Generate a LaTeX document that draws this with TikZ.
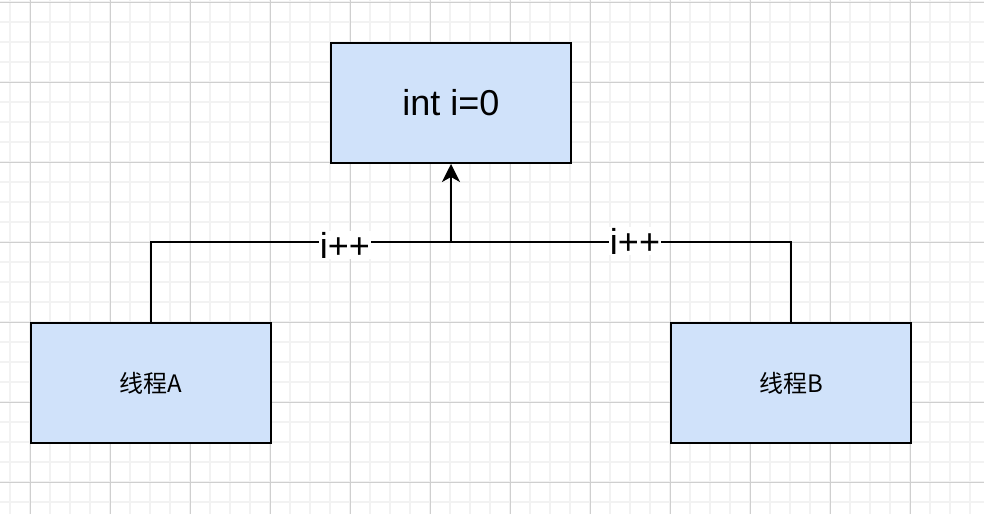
\documentclass[tikz,border=0pt]{standalone}
\usepackage{fontspec}
\setmainfont{Liberation Sans}
\newfontfamily\cjk{Noto Sans CJK SC}
\usetikzlibrary{arrows.meta}

\definecolor{boxfill}{HTML}{D0E2FA}
\definecolor{gridminor}{HTML}{F2F2F2}
\definecolor{gridmajor}{HTML}{CFCFCF}

\begin{document}
\begin{tikzpicture}[x=1pt,y=-1pt,line cap=butt,line join=miter,
    box/.style={draw=black,fill=boxfill,line width=2pt,minimum width=240pt,
      minimum height=120pt,inner sep=0pt},
    wire/.style={line width=2pt},
    tag/.style={fill=white,inner sep=1pt,font=\fontsize{36}{40}\selectfont}]
    % Page and its background grid.
    \useasboundingbox (0,0) rectangle (984,514);
    \fill[white] (0,0) rectangle (984,514);
    \foreach \x in {10,30,...,970}
      \draw[gridminor,line width=2pt] (\x,0) -- (\x,514);
    \foreach \y in {2,22,...,502}
      \draw[gridminor,line width=2pt] (0,\y) -- (984,\y);
    \foreach \x in {30,110,...,990}
      \draw[gridmajor,line width=1pt] (\x,0) -- (\x,514);
    \foreach \y in {2,82,...,482}
      \draw[gridmajor,line width=1pt] (0,\y) -- (984,\y);

    % The shared variable and the two threads.
    \node[box,font=\fontsize{36}{40}\selectfont] (var) at (451,103) {int i=0};
    \node[box,font=\cjk\fontsize{24}{28}\selectfont] (ta) at (151,383) {线程A};
    \node[box,font=\cjk\fontsize{24}{28}\selectfont] (tb) at (791,383) {线程B};

    % Both threads join here and write to i.
    \coordinate (join) at (451,242);
    \draw[wire] (ta.north) |- (join);
    \draw[wire] (tb.north) |- (join);
    \draw[wire,-{Stealth[length=18pt,width=18pt,inset=5pt]}] (join) -- (var.south);
    \node[tag] (inca) at (345,245) {i++};
    \node[tag] (incb) at (635,241) {i++};
  \end{tikzpicture}
\end{document}
